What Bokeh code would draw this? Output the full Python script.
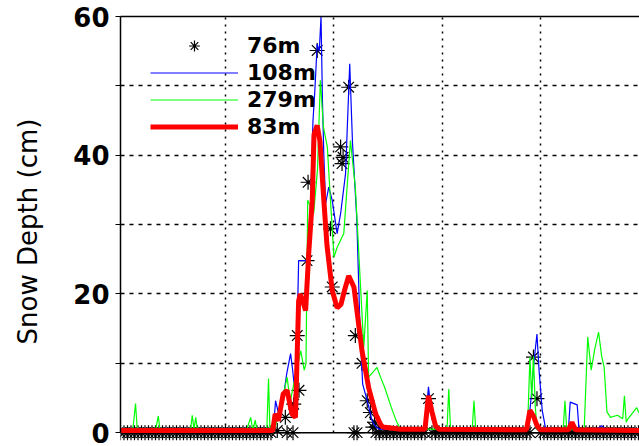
from bokeh.plotting import figure
from bokeh.models import Range1d, FixedTicker, LinearAxis, Legend, LegendItem, Span, BoxAnnotation
from bokeh.embed import file_html
from bokeh.resources import INLINE

# x = days since 1 November; y = snow depth (cm)
month_starts = [30, 61, 92, 120]          # 1 Dec, 1 Jan, 1 Feb, 1 Mar
y_ticks = [0, 10, 20, 30, 40, 50, 60]
y_tick_labels = {0: "0", 10: "", 20: "20", 30: "", 40: "40", 50: "", 60: "60"}

# 76m station (stars)
star_days = [0, 1, 2, 3, 4, 5, 6, 7, 8, 9, 10, 11, 12, 13, 14, 15, 16, 17, 18, 19, 20,
             21, 22, 23, 24, 25, 26, 27, 28, 29, 30, 31, 32, 33, 34, 35, 36, 37, 38, 39,
             40, 41, 42, 43,
             44.8, 47.1, 47.6, 49.3, 49.5, 50.5, 51.0, 53.3, 53.6, 56.2, 60.0, 60.5,
             62.9, 63.3, 63.6, 65.2, 66.7, 67.1, 67.6, 69.0, 70.5, 71.4, 72.1, 72.6,
             73, 74, 75, 76, 77, 78, 79, 80, 81, 82, 83, 84, 85, 86, 87, 88, 89, 90, 91,
             92, 93, 94, 95, 96, 97, 98, 99, 100, 101, 102, 103, 104, 105, 106, 107, 108,
             109, 110, 111, 112, 113, 114, 115, 116, 117, 118, 119, 120, 121, 122, 123,
             124, 125, 126, 127, 128, 129, 130, 131, 132, 133, 134, 135, 136, 137, 138,
             139, 140, 141, 142, 143, 144, 145, 146, 147, 148]
star_depth = [0, 0, 0, 0, 0, 0, 0, 0, 0, 0, 0, 0, 0, 0, 0, 0, 0, 0, 0, 0, 0,
              0, 0, 0, 0, 0, 0, 0, 0, 0, 0, 0, 0, 0, 0, 0, 0, 0, 0, 0,
              0, 0, 0, 0,
              0.3, 2.2, 0, 0, 4.1, 14.0, 6.1, 24.8, 36.1, 55.1, 29.4, 21.0,
              41.2, 38.8, 39.7, 49.8, 0, 14.0, 0, 10.0, 4.6, 2.9, 0.8, 1.5,
              0, 0, 0, 0, 0, 0, 0, 0, 0, 0, 0, 0, 0, 0, 0, 4.9, 0, 0, 0,
              0, 0, 0, 0, 0, 0, 0, 0, 0, 0, 0, 0, 0, 0, 0, 0, 0,
              0, 0, 0, 0, 0, 0, 0, 0, 0, 10.9, 4.9, 0, 0, 0, 0, 0,
              0, 0, 0, 0, 0, 0, 0, 0, 0, 0, 0, 0, 0, 0, 0,
              0, 0, 0, 0, 0, 0, 0, 0, 0, 0]

# 108m station (blue)
blue_days = [0, 43, 44, 44.3, 45.5, 46.5, 47.5, 48.6, 49.2, 49.8, 50.4, 50.9, 52.3, 53.3,
             54.3, 55.0, 55.5, 56.2, 56.8, 57.3, 57.7, 58.1, 58.6, 59.5, 60.5, 61.9,
             62.9, 64.3, 65.5, 66.3, 67.5, 68.5, 69.2, 70.5, 71.9, 73, 74,
             87, 88, 89, 90, 116.5, 117.5, 118.1, 119.0, 119.6, 120.5, 121.5,
             128, 128.5, 130.5, 131, 136, 137.5, 138.5, 150]
blue_depth = [0.3, 0.3, 2.5, 4.6, 2.0, 5.0, 8.5, 11.4, 9.0, 6.0, 13.0, 24.8, 24.8, 24.8,
              33.0, 45.0, 49.0, 56.0, 55.0, 60.0, 48.0, 40.0, 33.0, 35.4, 33.5, 28.7,
              31.6, 37.3, 53.2, 41.7, 31.0, 14.0, 7.0, 4.6, 1.7, 0.8, 0.5,
              0.5, 6.6, 2.0, 0.5, 0.5, 6.0, 10.0, 14.2, 9.0, 3.2, 0.5,
              0.5, 4.4, 4.0, 0.5, 0.5, 1.0, 0.5, 0.3]

# 279m station (green)
green_days = [0, 3.5, 4.3, 4.8, 10, 10.8, 11.3, 20, 20.5, 21, 21.5, 22, 36, 37.2, 37.8,
              38.5, 39, 41.8, 42.3, 42.7, 44, 45.5, 47.6, 48.5, 50.5, 51.5, 52.5, 53.0,
              53.5, 55.2, 56.3, 57.1, 58.0, 59.1, 60.0, 61.0, 61.9, 63.8, 65.7, 67.1,
              69.5, 70.5, 70.9, 73.3, 74.3, 75.5, 77.4, 78.8, 80,
              93.3, 93.8, 94.3, 100.5, 101, 101.5, 116.3, 117, 117.5, 118, 118.5, 119,
              126.5, 127, 127.5, 132.5, 133.5, 134.5, 135.5, 136.6, 137.5, 138.2, 139,
              140, 142, 143.5, 144, 144.5, 145, 147.5, 148, 150]
green_depth = [0.3, 0.3, 4.2, 0.3, 0.3, 2.4, 0.3, 0.3, 2.5, 0.5, 2.2, 0.3, 0.3, 2.2, 0.3,
               1.8, 0.3, 0.3, 7.8, 0.3, 0.5, 3.0, 8.0, 4.5, 9.4, 11.8, 9.0, 10.0,
               33.5, 31.6, 38.0, 50.8, 44.0, 41.2, 33.5, 25.3, 26.7, 28.7, 42.1, 35.4,
               12.3, 20.5, 8.0, 9.4, 8.0, 6.5, 3.6, 1.7, 0.5,
               0.5, 6.3, 0.5, 0.5, 4.6, 0.5, 0.5, 10.9, 5.0, 11.0, 4.0, 0.5,
               0.5, 4.6, 0.5, 0.5, 13.8, 9.0, 12.0, 14.5, 11.0, 9.4, 3.0,
               2.2, 2.5, 2.0, 5.3, 1.5, 2.0, 3.6, 3.0, 2.0]

# 83m station (red)
red_days = [0, 43.5, 44.2, 45.1, 46.5, 47.6, 49, 50, 50.9, 51.4, 52.9, 53.8, 54.8, 55.3,
            56.2, 57, 58.1, 59, 60.5, 61.9, 63, 64, 65.2, 66.7, 69, 70.9, 72.9, 74.3, 75,
            80, 87, 88, 89, 90, 91, 116, 117, 118, 119, 120, 128, 129, 130, 150]
red_depth = [0.3, 0.3, 2.7, 1.7, 5.6, 6.1, 2.7, 2.2, 19.0, 20.0, 17.6, 26.0, 33.5, 43.0,
             44.3, 42.0, 33.5, 27.0, 20.5, 18.0, 18.5, 20.5, 22.6, 21.0, 11.8, 6.5, 2.7,
             1.2, 0.8, 0.5, 0.5, 5.3, 3.0, 1.0, 0.5, 0.4, 3.2, 2.4, 1.0, 0.4, 0.4, 1.5,
             0.4, 0.3]

FONT = "DejaVu Sans"

p = figure(width=639, height=446, output_backend="svg", toolbar_location=None,
           x_range=Range1d(0, 148.3), y_range=Range1d(-2, 60),
           min_border_left=120, min_border_right=0, min_border_top=16,
           min_border_bottom=0, background_fill_color="white",
           border_fill_color="white")
p.outline_line_color = None
p.xaxis.visible = False

# top border
top = LinearAxis(ticker=FixedTicker(ticks=[]), major_label_text_font_size="0px",
                 major_tick_out=0, major_tick_in=0, minor_tick_line_color=None,
                 axis_line_width=1.5, axis_line_color="black", major_label_standoff=0)
p.add_layout(top, "above")

# left axis
p.yaxis.ticker = FixedTicker(ticks=y_ticks)
p.yaxis.bounds = (0, 60)
p.yaxis.major_label_overrides = y_tick_labels
p.yaxis.major_label_text_font = FONT
p.yaxis.major_label_text_font_style = "bold"
p.yaxis.major_label_text_font_size = "26px"
p.yaxis.major_label_text_color = "black"
p.yaxis.major_label_standoff = 6
p.yaxis.major_tick_out = 5
p.yaxis.major_tick_in = 0
p.yaxis.minor_tick_line_color = None
p.yaxis.axis_line_width = 1.5
p.yaxis.axis_line_color = "black"
p.yaxis.major_tick_line_color = "black"
p.yaxis.axis_label = "Snow Depth (cm)"
p.yaxis.axis_label_text_font = FONT
p.yaxis.axis_label_text_font_style = "normal"
p.yaxis.axis_label_text_font_size = "26px"
p.yaxis.axis_label_text_color = "black"
p.yaxis.axis_label_standoff = 27

# grid
p.xgrid.ticker = FixedTicker(ticks=month_starts)
p.ygrid.ticker = FixedTicker(ticks=[10, 20, 30, 40, 50])
p.xgrid.grid_line_color = "black"
p.xgrid.grid_line_dash = "2 5"
p.xgrid.grid_line_width = 1.5
p.ygrid.grid_line_color = "black"
p.ygrid.grid_line_dash = "4 5"
p.ygrid.grid_line_width = 1.5

# hide grid below the zero line, then draw the bottom axis line at 0
p.add_layout(BoxAnnotation(top=0, fill_color="white", fill_alpha=1.0,
                           line_color=None, level="underlay"))
p.add_layout(Span(location=0, dimension="width", line_color="black",
                  line_width=1.5, level="underlay"))

stars = p.scatter(star_days, star_depth, marker="asterisk", size=15,
                  line_color="black", line_width=1.2)
blue = p.line(blue_days, blue_depth, line_color="#0000ff", line_width=1.2)
green = p.line(green_days, green_depth, line_color="#00ff00", line_width=1.2)
red = p.line(red_days, red_depth, line_color="#ff0000", line_width=5)

legend = Legend(items=[LegendItem(label="76m", renderers=[stars]),
                       LegendItem(label="108m", renderers=[blue]),
                       LegendItem(label="279m", renderers=[green]),
                       LegendItem(label="83m", renderers=[red])],
                location=(30, 306), glyph_width=88, glyph_height=27,
                label_height=27, spacing=0, padding=0, margin=0,
                label_standoff=9, label_text_font=FONT,
                label_text_font_style="bold", label_text_font_size="22px",
                label_text_color="black", border_line_color=None,
                background_fill_alpha=0)
p.add_layout(legend)

open("out.html", "w").write(file_html(p, INLINE))
